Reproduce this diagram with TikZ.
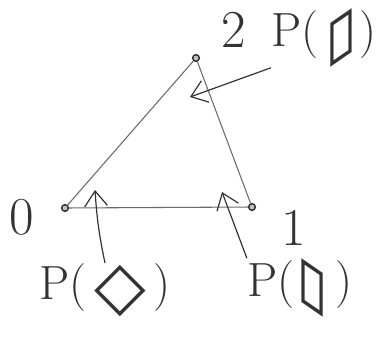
\documentclass[tikz,border=0pt]{standalone}
\usepackage{fontspec}
\usepackage{graphicx}
\usetikzlibrary{arrows.meta,positioning}
\newfontfamily\symfont{DejaVu Sans}
\definecolor{skink}{HTML}{333333}
\definecolor{skgray}{HTML}{6A6A6A}
\newcommand{\midsym}[1]{$\vcenter{\hbox{\symfont #1}}$}

\begin{document}
\begin{tikzpicture}[
    x=0.75pt,y=-0.75pt,
    vertex/.style={circle,draw=skink,fill=skgray!40,line width=1.1pt,inner sep=0pt,minimum size=5pt},
    numlabel/.style={inner sep=0pt,font=\fontsize{40}{42}\selectfont,text=skink},
    plabel/.style={inner sep=0pt,font=\fontsize{36}{40}\selectfont,text=skink},
    side/.style={draw=skgray,line width=0.8pt},
    pointer/.style={-{Straight Barb[length=4mm,width=6mm]},draw=skink,line width=0.9pt}
  ]
  \useasboundingbox (0,0) rectangle (385,339);
  % triangle corners
  \node[vertex] (v0) at (65,208) {};
  \node[vertex] (v1) at (252,207) {};
  \node[vertex] (v2) at (196,58) {};
  \node[numlabel,left=7mm of v0,yshift=-2.5mm] (l0) {0};
  \node[numlabel,below right=0mm and 7mm of v1] (l1) {1};
  \node[numlabel,above right=2mm and 6mm of v2] (l2) {2};
  \draw[side] (v0) -- (v1);
  \draw[side] (v1) -- (v2);
  \draw[side] (v2) -- (v0);
  % the three P(...) labels
  \node[plabel] (pa) at (105,290) {P(\,\midsym{\bfseries\scalebox{1.4}{◇}}\,)};
  \node[plabel] (pb) at (300,288) {P(\,\midsym{\scalebox{1.2}[1.6]{\rotatebox{90}{▱}}}\,)};
  \node[plabel] (pc) at (324,38) {P(\,\midsym{\scalebox{1.2}[1.6]{\reflectbox{\rotatebox{90}{▱}}}}\,)};
  \coordinate (t0) at (95,190);
  \coordinate (t1) at (222,192);
  \coordinate (t2) at (190,97);
  \draw[pointer] (pa.north) to[bend left=4] (t0);
  \draw[pointer] (pb.north west) -- (t1);
  \draw[pointer] (pc.south west) -- (t2);
\end{tikzpicture}
\end{document}
